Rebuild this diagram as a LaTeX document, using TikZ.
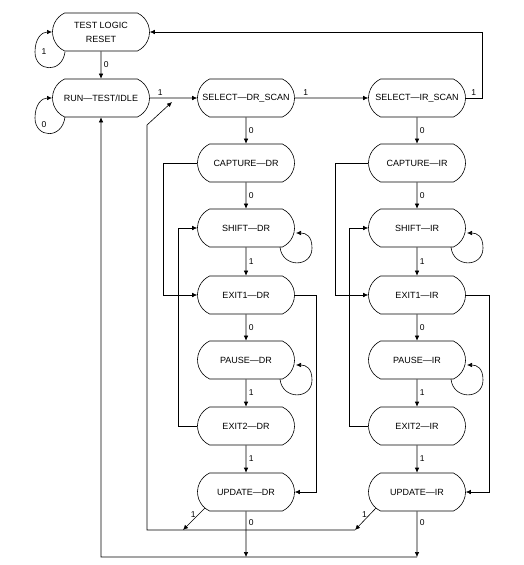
\documentclass[tikz,border=0pt]{standalone}
\usepackage{fontspec}
\setmainfont{Liberation Sans}
\usepackage{xcolor}
\usepackage{tikz}
\usetikzlibrary{shapes.misc}
\usetikzlibrary{arrows.meta}
\tikzset{>={Latex[length=5pt,width=4.5pt]}}
\tikzset{
    tapstate/.style={
        draw,
        line width=0.6pt,
        rounded rectangle,
        rounded rectangle arc length=130,
        minimum width=99pt,
        minimum height=38pt,
        inner sep=1pt,
        align=center,
        font=\fontsize{9}{14}\selectfont,
    },
    tapedge/.style={->, line width=0.6pt},
    lbl/.style={font=\fontsize{8.5}{10}\selectfont, inner sep=2.5pt},
}

\begin{document}
\begin{tikzpicture}[x=1pt,y=-1pt]
        \useasboundingbox (0,0) rectangle (524,565);

        % reset and idle
        \node[tapstate] (tlr) at (101,32) {TEST LOGIC\\RESET};
        \node[tapstate] (rti) at (101,98) {RUN—TEST/IDLE};

        % data register column
        \node[tapstate] (sds) at (246,98) {SELECT—DR\_SCAN};
        \node[tapstate] (cdr) at (246,163) {CAPTURE—DR};
        \node[tapstate] (shdr) at (246,228) {SHIFT—DR};
        \node[tapstate] (e1dr) at (246,295) {EXIT1—DR};
        \node[tapstate] (pdr) at (246,360) {PAUSE—DR};
        \node[tapstate] (e2dr) at (246,426) {EXIT2—DR};
        \node[tapstate] (udr) at (246,492) {UPDATE—DR};

        % instruction register column
        \node[tapstate] (sis) at (417,98) {SELECT—IR\_SCAN};
        \node[tapstate] (cir) at (417,163) {CAPTURE—IR};
        \node[tapstate] (shir) at (417,228) {SHIFT—IR};
        \node[tapstate] (e1ir) at (417,295) {EXIT1—IR};
        \node[tapstate] (pir) at (417,360) {PAUSE—IR};
        \node[tapstate] (e2ir) at (417,426) {EXIT2—IR};
        \node[tapstate] (uir) at (417,492) {UPDATE—IR};

        % junction points
        \coordinate (jdr) at (183,530);
        \coordinate (jir) at (355,530);
        \coordinate (jret) at (147,530);
        \coordinate (jup) at (147,125);
        \coordinate (tosds) at (172,102);
        \coordinate (bdr) at (246,557);
        \coordinate (bir) at (417,557);
        \coordinate (brti) at (101,557);

        % top row
        \draw[tapedge] (tlr) -- node[lbl,right] (ltlr) {0} (rti);
        \draw[tapedge] (rti) -- node[lbl,pos=.22,above] (lrti) {1} (sds);
        \draw[tapedge] (sds) -- node[lbl,pos=.15,above] (lsds) {1} (sis);
        \draw[tapedge] (sis.east) -- node[lbl,above] (lsis) {1} ++(16,0) |- (tlr.east);

        % self loops
        \draw[tapedge, shift={(tlr.center)}] (-36,20) .. controls (-39,42) and (-66,40) .. (-66,20)
            .. controls (-66,6) and (-59,0) .. (-49,0);
        \node[lbl] (lltlr) at (44,52) {1};
        \draw[tapedge, shift={(rti.center)}] (-36,19) .. controls (-39,42) and (-66,40) .. (-66,20)
            .. controls (-66,6) and (-59,0) .. (-49,0);
        \node[lbl] (llrti) at (44,125) {0};
        \draw[tapedge, shift={(shdr.center)}] (34,19) .. controls (36,40) and (66,40) .. (66,20)
            .. controls (66,8) and (60,5) .. (50,5);
        \draw[tapedge, shift={(pdr.center)}] (34,19) .. controls (36,40) and (66,40) .. (66,20)
            .. controls (66,8) and (60,5) .. (50,5);
        \draw[tapedge, shift={(shir.center)}] (34,19) .. controls (36,40) and (66,40) .. (66,20)
            .. controls (66,8) and (60,5) .. (50,5);
        \draw[tapedge, shift={(pir.center)}] (34,19) .. controls (36,40) and (66,40) .. (66,20)
            .. controls (66,8) and (60,5) .. (50,5);

        % data register path
        \draw[tapedge] (sds) -- node[lbl,right] (l1) {0} (cdr);
        \draw[tapedge] (cdr) -- node[lbl,right] (l2) {0} (shdr);
        \draw[tapedge] (shdr) -- node[lbl,right] (l3) {1} (e1dr);
        \draw[tapedge] (e1dr) -- node[lbl,right] (l4) {0} (pdr);
        \draw[tapedge] (pdr) -- node[lbl,right] (l5) {1} (e2dr);
        \draw[tapedge] (e2dr) -- node[lbl,right] (l6) {1} (udr);
        \draw[tapedge] (cdr.west) -- ++(-34,0) |- (e1dr.west);
        \draw[tapedge] (e2dr.west) -- ++(-19,0) |- (shdr.west);
        \draw[tapedge] (e1dr.east) -- ++(21,0) |- (udr.east);

        % instruction register path
        \draw[tapedge] (sis) -- node[lbl,right] (l7) {0} (cir);
        \draw[tapedge] (cir) -- node[lbl,right] (l8) {0} (shir);
        \draw[tapedge] (shir) -- node[lbl,right] (l9) {1} (e1ir);
        \draw[tapedge] (e1ir) -- node[lbl,right] (l10) {0} (pir);
        \draw[tapedge] (pir) -- node[lbl,right] (l11) {1} (e2ir);
        \draw[tapedge] (e2ir) -- node[lbl,right] (l12) {1} (uir);
        \draw[tapedge] (cir.west) -- ++(-33,0) |- (e1ir.west);
        \draw[tapedge] (e2ir.west) -- ++(-19,0) |- (shir.west);
        \draw[tapedge] (e1ir.east) -- ++(23,0) |- (uir.east);

        % update returns
        \draw[tapedge] ([shift={(-41,16)}]udr.center) -- node[lbl,pos=.3,left] (l13) {1} (jdr);
        \draw[tapedge] ([shift={(-41,16)}]uir.center) -- node[lbl,pos=.3,left] (l14) {1} (jir);
        \draw[tapedge] (jir) -- (jret) -- (jup) -- (tosds);
        \draw[tapedge] (udr) -- node[lbl,pos=.25,right] (l15) {0} (bdr);
        \draw[tapedge] (uir) -- node[lbl,pos=.25,right] (l16) {0} (bir);
        \draw[tapedge] (bir) -- (brti) -- (rti);
    \end{tikzpicture}
\end{document}
